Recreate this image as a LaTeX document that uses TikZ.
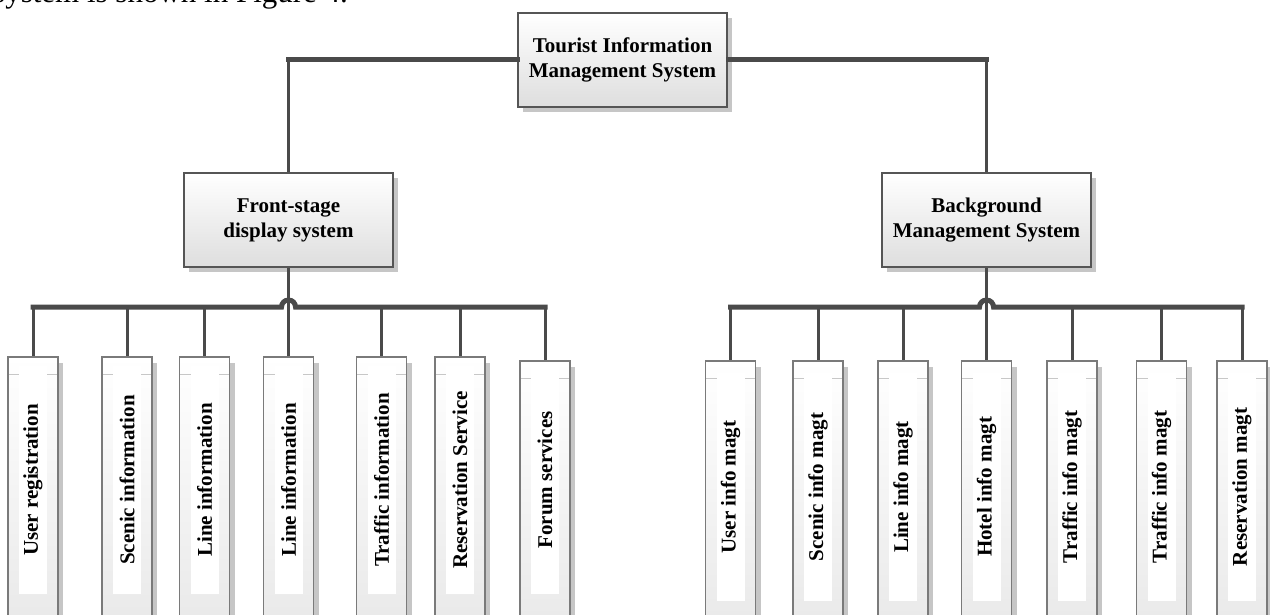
\documentclass[tikz,border=0pt]{standalone}
\usepackage{fontspec}
\setmainfont{Liberation Serif}
\usetikzlibrary{shadows}

\definecolor{wire}{HTML}{4A4A4A}
\definecolor{edge}{HTML}{555555}
\definecolor{leafedge}{HTML}{7A7A7A}
\definecolor{shade}{HTML}{C6C6C6}

\tikzset{
  topbox/.style={draw=edge, line width=2pt, top color=white, bottom color=black!13,
    minimum width=209pt, minimum height=94pt, inner sep=0pt, align=center,
    font=\fontsize{21}{25}\selectfont\bfseries,
    drop shadow={shadow xshift=5pt, shadow yshift=-5pt, fill=shade, opacity=1}},
  leafbox/.style={draw=leafedge, line width=1.6pt, top color=white, bottom color=black!9,
    minimum width=50pt, minimum height=280pt, inner sep=0pt, anchor=north,
    drop shadow={shadow xshift=5pt, shadow yshift=-6pt, fill=shade, opacity=1},
    path picture={\draw[black!22, line width=0.8pt]
      ([yshift=-18pt]path picture bounding box.north west) --
      ([yshift=-18pt]path picture bounding box.north east);}},
  leaftext/.style={fill=white, rotate=90, minimum width=228pt, minimum height=28pt,
    inner sep=0pt, font=\fontsize{21}{25}\selectfont\bfseries},
  bar/.style={draw=wire, line width=5pt, line cap=rect},
  stem/.style={draw=wire, line width=3pt},
}

\begin{document}
\begin{tikzpicture}[x=1pt, y=-1pt]
  \useasboundingbox (0,0) rectangle (1270,615);

  % last line of the paragraph above the chart
  \node[anchor=base west, inner sep=0pt, font=\fontsize{31}{36}\selectfont] (prose) at (-7,3)
    {system is shown in Figure 4.};

  % root and the two subsystems
  \node[topbox] (tims)  at (622.5,60) {Tourist Information\\Management System};
  \node[topbox] (front) at (288.5,220) {Front-stage\\display system};
  \node[topbox] (back)  at (986.5,220) {Background\\Management System};

  % front-stage modules
  \foreach \n/\x/\y in {f1/33/356, f2/127/356, f3/204.5/356, f4/288.5/356,
                        f5/381.5/356, f6/460/356, f7/545/360}
    \node[leafbox] (\n) at (\x,\y) {};
  \foreach \n/\x/\txt in {f1/33/User registration, f2/127/Scenic information,
                          f3/204.5/Line information, f4/288.5/Line information,
                          f5/381.5/Traffic information, f6/460/Reservation Service,
                          f7/545/Forum services}
    \node[leaftext] (\n t) at (\x,480) {\txt};

  % background management modules
  \foreach \n/\x in {b1/730.5, b2/818, b3/903, b4/986.5, b5/1072, b6/1161.5, b7/1242}
    \node[leafbox] (\n) at (\x,360) {};
  \foreach \n/\x/\txt in {b1/730.5/User info magt, b2/818/Scenic info magt,
                          b3/903/Line info magt, b4/986.5/Hotel info magt,
                          b5/1072/Traffic info magt, b6/1161.5/Traffic info magt,
                          b7/1242/Reservation magt}
    \node[leaftext] (\n t) at (\x,487) {\txt};

  % root to subsystems
  \draw[bar] (tims.west) -- (tims.west -| front.north);
  \draw[stem] (tims.west -| front.north) -- (front.north);
  \draw[bar] (tims.east) -- (tims.east -| back.north);
  \draw[stem] (tims.east -| back.north) -- (back.north);

  % distribution bars with a hop over the through line
  \coordinate (ybar) at (0,307);
  \coordinate (fj) at (front.south |- ybar);
  \coordinate (bj) at (back.south |- ybar);

  \draw[bar] (f1.north |- ybar) -- ([xshift=-7pt]fj)
    arc[start angle=180, end angle=0, radius=7pt] -- (f7.north |- ybar);
  \draw[bar] (b1.north |- ybar) -- ([xshift=-7pt]bj)
    arc[start angle=180, end angle=0, radius=7pt] -- (b7.north |- ybar);

  \draw[stem] (front.south) -- (f4.north);
  \draw[stem] (back.south) -- (b4.north);
  \foreach \n in {f1,f2,f3,f5,f6,f7,b1,b2,b3,b5,b6,b7}
    \draw[stem] (\n.north |- ybar) -- (\n.north);
\end{tikzpicture}
\end{document}
